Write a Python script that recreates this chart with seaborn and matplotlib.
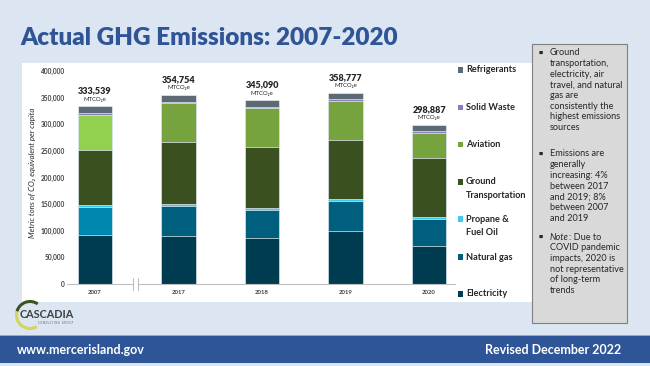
import matplotlib
matplotlib.use('Agg')
import pandas as pd
import matplotlib.pyplot as plt
import seaborn as sns
from matplotlib.patches import Rectangle, Arc

# Chart data (MTCO2e)
years = ['2007', '2017', '2018', '2019', '2020']
sources = ['Electricity', 'Natural gas', 'Propane & Fuel Oil', 'Ground Transportation',
           'Aviation', 'Solid Waste', 'Refrigerants']
electricity = [92000, 89300, 85500, 100000, 71700]
natural_gas = [53500, 56600, 52800, 55300, 50900]
propane = [2000, 3500, 4000, 3800, 4000]
ground = [104000, 116600, 114900, 112000, 110600]
aviation = [66500, 73000, 72400, 71700, 45800]
solid_waste = [2500, 3500, 3500, 4000, 4000]
refrigerants = [13039, 12254, 11990, 11977, 11887]
totals = [333539, 354754, 345090, 358777, 298887]
yticks = [0, 50000, 100000, 150000, 200000, 250000, 300000, 350000, 400000]
legend_labels = ['Refrigerants', 'Solid Waste', 'Aviation', 'Ground\nTransportation',
                 'Propane &\nFuel Oil', 'Natural gas', 'Electricity']

bullets = [
    ['Ground', 'transportation,', 'electricity, air', 'travel, and natural', 'gas are',
     'consistently the', 'highest emissions', 'sources'],
    ['Emissions are', 'generally', 'increasing: 4%', 'between 2017', 'and 2019; 8%',
     'between 2007', 'and 2019'],
    ['Note: Due to', 'COVID pandemic', 'impacts, 2020 is', 'not representative',
     'of long-term', 'trends'],
]

# colours per source, per year (2007 uses brighter shades)
colors = {
    'Electricity': ['#003c50'] * 5,
    'Natural gas': ['#0087ad'] + ['#005f7d'] * 4,
    'Propane & Fuel Oil': ['#3dc9f2'] * 5,
    'Ground Transportation': ['#3a5020'] * 5,
    'Aviation': ['#92d050'] + ['#77a33f'] * 4,
    'Solid Waste': ['#8a7cc4'] * 5,
    'Refrigerants': ['#5d6a74'] * 5,
}
legend_colors = ['#5d6a74', '#8a7cc4', '#77a33f', '#3a5020', '#3dc9f2', '#005f7d', '#003c50']

df = pd.DataFrame({
    'Electricity': electricity, 'Natural gas': natural_gas, 'Propane & Fuel Oil': propane,
    'Ground Transportation': ground, 'Aviation': aviation, 'Solid Waste': solid_waste,
    'Refrigerants': refrigerants}, index=years)
cum = df[sources].cumsum(axis=1)

W, H = 650, 366
def fx(px):
    return px / W
def fy(py):
    return 1 - py / H

sns.set_theme(style='white')
plt.rcParams['font.family'] = ['Lato', 'DejaVu Sans']

fig = plt.figure(figsize=(6.5, 3.66), dpi=100)
fig.patch.set_facecolor('#dce6f2')

# white chart panel
fig.add_artist(Rectangle((fx(22), fy(302)), fx(540) - fx(22), fy(63) - fy(302),
                         transform=fig.transFigure, facecolor='white', edgecolor='none', zorder=-1))

ax = fig.add_axes([fx(67), fy(284), fx(455) - fx(67), fy(71) - fy(284)])
ax.set_facecolor('none')

# stacked bars: draw cumulative totals from the top layer down
for src in reversed(sources):
    sns.barplot(x=years, y=cum[src].values, hue=years, palette=colors[src], legend=False,
                dodge=False, width=0.41, saturation=1, errorbar=None,
                edgecolor='#e4ecf4', linewidth=0.5, ax=ax)

ax.set_xlim(-0.335, 4.31)
ax.set_ylim(0, 400000)
ax.set_yticks(yticks)
ax.set_yticklabels([f'{v:,}' for v in yticks], fontsize=4.8, fontweight='bold', color='#404040')
ax.tick_params(axis='y', length=0, pad=1.5)
ax.tick_params(axis='x', length=0, pad=4)
ax.set_xticks(range(len(years)))
ax.set_xticklabels(years, fontsize=4.3, fontweight='bold', color='#404040')
ax.set_xlabel('')
ax.set_ylabel('')
for s in ax.spines.values():
    s.set_visible(False)

# broken category axis
tr = ax.get_xaxis_transform()
ax.plot([-0.335, 0.44], [0, 0], color='#bfbfbf', lw=0.8, transform=tr, clip_on=False)
ax.plot([0.53, 4.31], [0, 0], color='#bfbfbf', lw=0.8, transform=tr, clip_on=False)
for xb in [0.455, 0.515]:
    ax.plot([xb, xb], [-0.03, 0.03], color='#bfbfbf', lw=0.8, transform=tr, clip_on=False)

# total labels
for i, t in enumerate(totals):
    ax.annotate(f'{t:,}', xy=(i, t), xytext=(0, 11.2), textcoords='offset points',
                ha='center', va='center', fontsize=6.5, fontweight='heavy', color='#262626')
    ax.annotate('MTCO₂e', xy=(i, t), xytext=(0, 5.2), textcoords='offset points',
                ha='center', va='center', fontsize=4.3, color='#262626')

fig.text(fx(33), fy(173), 'Metric tons of CO₂ equivalent per capita', rotation=90,
         ha='center', va='center', fontsize=5.6, style='italic', color='#262626')

# legend
leg_y = [70, 107.7, 144.3, 182, 219, 257, 294]
for lab, c, y in zip(legend_labels, legend_colors, leg_y):
    fig.add_artist(Rectangle((fx(458), fy(y + 2.8)), fx(5.5), fy(0) - fy(5.5),
                             transform=fig.transFigure, facecolor=c, edgecolor='none'))
    for k, part in enumerate(lab.split('\n')):
        fig.text(fx(466), fy(y + k * 13.5), part, ha='left', va='center', fontsize=6.6,
                 fontweight='bold', color='#262626')

# grey notes box
fig.add_artist(Rectangle((fx(532), fy(323)), fx(627) - fx(532), fy(44) - fy(323),
                         transform=fig.transFigure, facecolor='#d9d9d9', edgecolor='#7f7f7f',
                         lw=0.8, zorder=2))
renderer = fig.canvas.get_renderer()
starts = [52.7, 154, 237]
for block, y0 in zip(bullets, starts):
    fig.text(fx(541), fy(y0), '■', ha='center', va='center', fontsize=3.2, color='#262626',
             family='DejaVu Sans', zorder=3)
    for j, line in enumerate(block):
        y = fy(y0 + j * 10.7)
        if line.startswith('Note:'):
            t = fig.text(fx(550), y, 'Note', ha='left', va='center', fontsize=6.6,
                         style='italic', color='#262626', zorder=3)
            x1 = t.get_window_extent(renderer).x1
            fig.text(fx(x1 + 0.3), y, ': Due to', ha='left', va='center', fontsize=6.6,
                     color='#262626', zorder=3)
        else:
            fig.text(fx(550), y, line, ha='left', va='center', fontsize=6.6,
                     color='#262626', zorder=3)

# title
fig.text(fx(20), fy(38), 'Actual GHG Emissions: 2007-2020', ha='left', va='center',
         fontsize=17.5, fontweight='heavy', color='#2f5597')

# logo
fig.add_artist(Arc((0.30, 0.51), 0.27, 0.27, theta1=55, theta2=165, transform=fig.dpi_scale_trans,
                   color='#3b5323', lw=2.2))
fig.add_artist(Arc((0.30, 0.51), 0.27, 0.27, theta1=165, theta2=300, transform=fig.dpi_scale_trans,
                   color='#d8d35a', lw=2.2))
fig.text(fx(20), fy(315), 'CASCADIA', ha='left', va='center', fontsize=7.8, fontweight='bold',
         color='#3f3f3f')
fig.text(fx(38), fy(323.5), 'C O N S U L T I N G   G R O U P', ha='left', va='center',
         fontsize=1.8, color='#595959')

# footer
fig.add_artist(Rectangle((0, fy(363)), 1, fy(335) - fy(363), transform=fig.transFigure,
                         facecolor='#2e5597', edgecolor='none'))
fig.add_artist(Rectangle((0, fy(335.8)), 1, fy(334.6) - fy(335.8), transform=fig.transFigure,
                         facecolor='#8eaadb', edgecolor='none'))
fig.text(fx(17), fy(350.5), 'www.mercerisland.gov', ha='left', va='center', fontsize=9,
         fontweight='bold', color='white')
fig.text(fx(621), fy(349.5), 'Revised December 2022', ha='right', va='center', fontsize=9,
         fontweight='bold', color='white')

fig.savefig('out.png', dpi=100, facecolor=fig.get_facecolor())
